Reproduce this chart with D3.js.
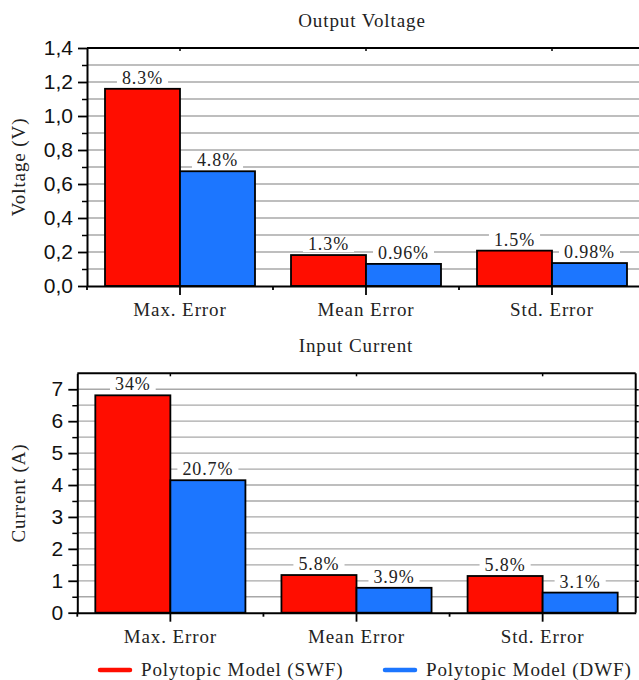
<!DOCTYPE html>
<html>
<head>
<meta charset="utf-8">
<script src="https://cdn.jsdelivr.net/npm/d3@7"></script>
<style>
  body { margin: 0; background: #fff; }
  svg { display: block; }
</style>
</head>
<body>
<div id="chart"></div>
<script>
// data
var categories = ["Max. Error", "Mean Error", "Std. Error"];
var seriesNames = ["Polytopic Model (SWF)", "Polytopic Model (DWF)"];

var voltageSWF = [1.16, 0.182, 0.208];
var voltageDWF = [0.675, 0.13, 0.135];
var voltageSWFLabels = ["8.3%", "1.3%", "1.5%"];
var voltageDWFLabels = ["4.8%", "0.96%", "0.98%"];
var voltageTicks = [0, 0.2, 0.4, 0.6, 0.8, 1.0, 1.2, 1.4];

var currentSWF = [6.81, 1.18, 1.15];
var currentDWF = [4.15, 0.78, 0.63];
var currentSWFLabels = ["34%", "5.8%", "5.8%"];
var currentDWFLabels = ["20.7%", "3.9%", "3.1%"];
var currentTicks = [0, 1, 2, 3, 4, 5, 6, 7];

var colors = ["#ff0d00", "#1c76ff"];
var serif = "'Liberation Serif', 'Times New Roman', serif";
var sans = "'Liberation Sans', Arial, sans-serif";

var svg = d3.select("#chart")
    .append("svg")
    .attr("width", 639)
    .attr("height", 680);

// serif text helper, spaced out a bit to look like the LaTeX font
function serifText(sel, size) {
    sel.attr("font-family", serif)
        .attr("font-size", size + "px")
        .attr("letter-spacing", "0.9px")
        .attr("fill", "#222");
}

function drawPanel(opt) {
    var g = svg.append("g");
    var pad = 36 / 186;

    var x = d3.scaleBand()
        .domain(categories)
        .range([opt.left, opt.right])
        .paddingInner(pad)
        .paddingOuter(pad / 2);
    var xSub = d3.scaleBand()
        .domain([0, 1])
        .range([0, x.bandwidth()]);
    var y = d3.scaleLinear()
        .domain([0, opt.max])
        .range([opt.bottom, opt.top]);

    // gridlines
    g.append("g")
        .selectAll("line")
        .data(opt.grid)
        .enter()
        .append("line")
        .attr("x1", opt.left)
        .attr("x2", opt.right)
        .attr("y1", function(d) { return y(d); })
        .attr("y2", function(d) { return y(d); })
        .attr("stroke", "#a8a8a8")
        .attr("stroke-width", 1.3);

    // bars
    var rows = categories.map(function(c, i) {
        return [
            { cat: c, s: 0, v: opt.swf[i], label: opt.swfLabels[i] },
            { cat: c, s: 1, v: opt.dwf[i], label: opt.dwfLabels[i] }
        ];
    });
    var flat = d3.merge(rows);

    g.append("g")
        .selectAll("rect")
        .data(flat)
        .enter()
        .append("rect")
        .attr("x", function(d) { return x(d.cat) + xSub(d.s); })
        .attr("y", function(d) { return y(d.v); })
        .attr("width", xSub.bandwidth())
        .attr("height", function(d) { return y(0) - y(d.v); })
        .attr("fill", function(d) { return colors[d.s]; })
        .attr("stroke", "#000")
        .attr("stroke-width", 1.8);

    // value labels with white boxes
    var lab = g.append("g")
        .selectAll("g")
        .data(flat)
        .enter()
        .append("g");
    lab.append("rect").attr("fill", "#fff");
    lab.append("text")
        .text(function(d) { return d.label; })
        .attr("x", function(d) { return x(d.cat) + xSub(d.s) + xSub.bandwidth() / 2; })
        .attr("y", function(d) { return y(d.v) - 5; })
        .attr("text-anchor", "middle")
        .call(serifText, 18);
    lab.each(function() {
        var grp = d3.select(this);
        var b = grp.select("text").node().getBBox();
        grp.select("rect")
            .attr("x", b.x - 5)
            .attr("y", b.y + 2)
            .attr("width", b.width + 10)
            .attr("height", b.height - 4);
    });

    // frame
    g.append("line")
        .attr("x1", opt.left).attr("x2", opt.right)
        .attr("y1", opt.top).attr("y2", opt.top)
        .attr("stroke", "#000").attr("stroke-width", 2);
    if (opt.rightBorder) {
        g.append("line")
            .attr("x1", opt.right).attr("x2", opt.right)
            .attr("y1", opt.top).attr("y2", opt.bottom)
            .attr("stroke", "#000").attr("stroke-width", 2);
        var ra = g.append("g")
            .attr("transform", "translate(" + opt.right + ",0)")
            .call(d3.axisRight(y).tickValues(opt.grid).tickSize(3).tickFormat(""));
        ra.select(".domain").remove();
        ra.selectAll("line").attr("stroke-width", 1.5);
    }
    // top mirror ticks
    var ta = g.append("g")
        .attr("transform", "translate(0," + opt.top + ")")
        .call(d3.axisBottom(x).tickSize(3).tickFormat(""));
    ta.select(".domain").remove();
    ta.selectAll("line").attr("stroke-width", 1.5);

    // y axis
    var ya = g.append("g")
        .attr("transform", "translate(" + opt.left + ",0)")
        .call(d3.axisLeft(y).tickValues(opt.ticks).tickSize(9).tickSizeOuter(0).tickPadding(5)
            .tickFormat(opt.fmt));
    ya.select(".domain").attr("stroke-width", 2);
    ya.selectAll(".tick line").attr("stroke-width", 1.8);
    ya.selectAll("text")
        .attr("font-family", sans)
        .attr("font-size", "21px")
        .attr("fill", "#111");
    var ym = g.append("g")
        .attr("transform", "translate(" + opt.left + ",0)")
        .call(d3.axisLeft(y).tickValues(opt.minor).tickSize(5).tickFormat(""));
    ym.select(".domain").remove();
    ym.selectAll("line").attr("stroke-width", 1.5);

    // x axis
    var xa = g.append("g")
        .attr("transform", "translate(0," + opt.bottom + ")")
        .call(d3.axisBottom(x).tickSize(9).tickSizeOuter(0).tickPadding(8));
    xa.select(".domain").attr("stroke-width", 2);
    xa.selectAll(".tick line").attr("stroke-width", 1.8);
    xa.selectAll("text").call(serifText, 19);
    var bounds = categories.map(function(c) { return x(c) - x.step() * pad / 2; });
    g.append("g")
        .selectAll("line")
        .data(bounds)
        .enter()
        .append("line")
        .attr("x1", function(d) { return d; })
        .attr("x2", function(d) { return d; })
        .attr("y1", opt.bottom)
        .attr("y2", opt.bottom + 4)
        .attr("stroke", "#000")
        .attr("stroke-width", 1.8);

    // title
    g.append("text")
        .text(opt.title)
        .attr("x", opt.titleX)
        .attr("y", opt.top - 21)
        .attr("text-anchor", "middle")
        .call(serifText, 19);

    // y label
    g.append("text")
        .text(opt.yLabel)
        .attr("transform", "translate(25," + ((opt.top + opt.bottom) / 2) + ") rotate(-90)")
        .attr("text-anchor", "middle")
        .call(serifText, 19);
}

drawPanel({
    left: 87, right: 645, top: 48, bottom: 286, max: 1.4,
    swf: voltageSWF, dwf: voltageDWF,
    swfLabels: voltageSWFLabels, dwfLabels: voltageDWFLabels,
    ticks: voltageTicks,
    minor: d3.range(1, 14, 2).map(function(d) { return d / 10; }),
    grid: d3.range(1, 14).map(function(d) { return d / 10; }),
    fmt: function(d) { return d3.format(".1f")(d).replace(".", ","); },
    title: "Output Voltage", titleX: 362, yLabel: "Voltage (V)",
    rightBorder: false
});

drawPanel({
    left: 77.3, right: 635.7, top: 373.3, bottom: 612.7, max: 7.5,
    swf: currentSWF, dwf: currentDWF,
    swfLabels: currentSWFLabels, dwfLabels: currentDWFLabels,
    ticks: currentTicks,
    minor: d3.range(1, 15, 2).map(function(d) { return d / 2; }),
    grid: d3.range(1, 15).map(function(d) { return d / 2; }),
    fmt: d3.format("d"),
    title: "Input Current", titleX: 356, yLabel: "Current (A)",
    rightBorder: true
});

// legend
var legend = svg.append("g")
    .selectAll("g")
    .data(seriesNames)
    .enter()
    .append("g")
    .attr("transform", function(d, i) { return "translate(" + [100, 385][i] + ",670)"; });
legend.append("line")
    .attr("x1", 0).attr("x2", 30)
    .attr("stroke", function(d, i) { return colors[i]; })
    .attr("stroke-width", 4.5)
    .attr("stroke-linecap", "round");
legend.append("text")
    .text(function(d) { return d; })
    .attr("x", 41)
    .attr("y", 6)
    .call(serifText, 19);
</script>
</body>
</html>
